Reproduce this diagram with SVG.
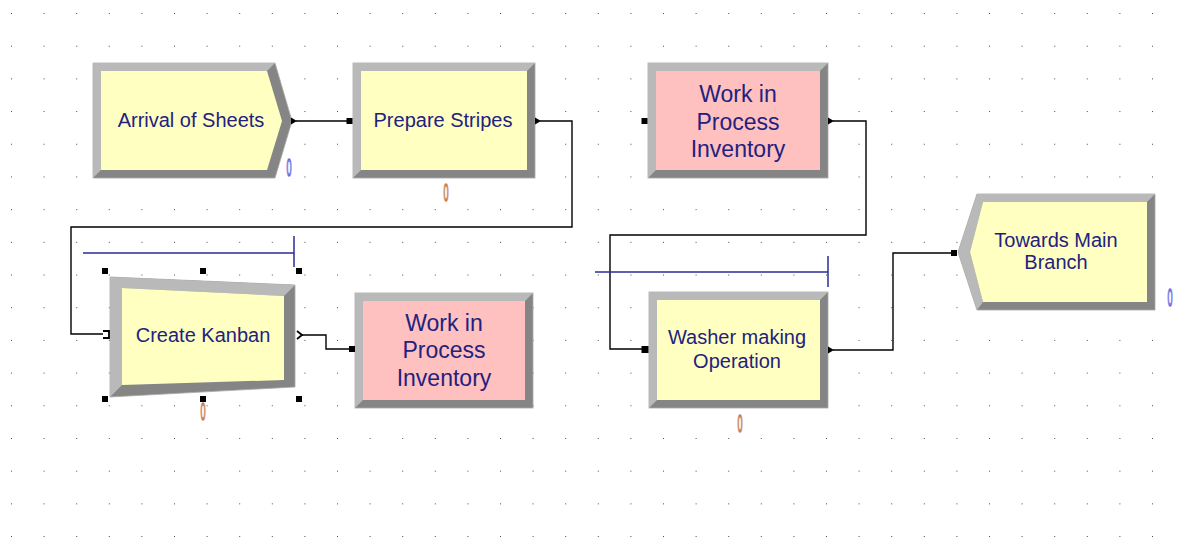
<svg xmlns="http://www.w3.org/2000/svg" width="1183" height="538" viewBox="0 0 1183 538">
  <style>
    .lbl { font-family: "Liberation Sans", Arial, sans-serif; font-size: 20px; fill: #22227e; text-anchor: middle; }
    .big { font-size: 23px; }
    .light { fill: #b9b9b9; }
    .dark { fill: #858585; stroke: #a8a8a8; stroke-width: 0.8; }
    .yel { fill: #ffffc2; }
    .pink { fill: #ffc0c0; }
    .port { fill: #000; }
    .wire { fill: none; stroke: #000; stroke-width: 1.4; }
    .qline { fill: none; stroke: #2d2d9a; stroke-width: 1.5; }
    .cnt { font-family: "Liberation Sans", Arial, sans-serif; font-size: 24px; fill: #fff; stroke-width: 1.6; text-anchor: middle; }
    .cb { stroke: #6a6ae0; }
    .co { stroke: #c87850; }
  </style>
  <defs>
    <pattern id="grid" x="11" y="13" width="32.6" height="32.69" patternUnits="userSpaceOnUse">
      <rect x="-0.9" y="-0.9" width="1.9" height="1.9" fill="#4a4a4a"/>
    </pattern>
  </defs>

  <rect width="1183" height="538" fill="#fff"/>
  <rect width="1183" height="538" fill="url(#grid)"/>

  <!-- connectors -->
  <g id="connectors">
    <path class="wire" d="M296,121 H348"/>
    <path class="wire" d="M540,121 H572 V227 H71 V334 H103"/>
    <path class="wire" d="M302,335 H326 V349 H350"/>
    <path class="wire" d="M833,121 H866 V235 H610 V349 H643"/>
    <path class="wire" d="M833,350 H893 V253 H952"/>
  </g>

  <!-- Arrival of Sheets (create) -->
  <g id="arrival">
    <polygon class="dark" points="93,63 275,63 292,121 275,178 93,178"/>
    <polygon class="light" points="93,63 275,63 267,71 101,71 101,170 93,178"/>
    <polygon class="yel" points="101,71 267,71 282,121 267,170 101,170"/>
    <text class="lbl" x="191" y="127">Arrival of Sheets</text>
    <polygon class="port" points="291,117.5 297,121 291,124.5"/>
    <text class="cnt cb" transform="translate(289,176) scale(0.38,1)">0</text>
  </g>

  <!-- Prepare Stripes (process) -->
  <g id="prepare">
    <rect class="dark" x="353" y="63" width="182" height="115"/>
    <polygon class="light" points="353,63 535,63 527,71 361,71 361,170 353,178"/>
    <rect class="yel" x="361" y="71" width="166" height="99"/>
    <text class="lbl" x="443" y="127">Prepare Stripes</text>
    <rect class="port" x="346.5" y="118" width="6" height="6"/>
    <polygon class="port" points="535,117.5 541,121 535,124.5"/>
    <text class="cnt co" transform="translate(446,201) scale(0.38,1)">0</text>
  </g>

  <!-- Work in Process Inventory (upper) -->
  <g id="wip-upper">
    <rect class="dark" x="648" y="63" width="180" height="115"/>
    <polygon class="light" points="648,63 828,63 820,71 656,71 656,170 648,178"/>
    <rect class="pink" x="656" y="71" width="164" height="99"/>
    <text class="lbl big" x="738" y="102">Work in</text>
    <text class="lbl big" x="738" y="130">Process</text>
    <text class="lbl big" x="738" y="157">Inventory</text>
    <rect class="port" x="641.5" y="118" width="6" height="6"/>
    <polygon class="port" points="828,117.5 834,121 828,124.5"/>
  </g>

  <!-- Create Kanban -->
  <g id="create-kanban">
    <path class="qline" d="M83,253 H294 M294,236 V267"/>
    <polygon class="dark" points="110,277 295,285 295,387 110,397"/>
    <polygon class="light" points="110,277 295,285 284,296 122,288 122,385 110,397"/>
    <polygon class="yel" points="122,288 284,296 284,380 122,385"/>
    <text class="lbl" x="203" y="342">Create Kanban</text>
    <path d="M103,331 H109 V338 H103" fill="none" stroke="#000" stroke-width="1.8"/>
    <path d="M297,331 L302,335 L297,339" fill="none" stroke="#000" stroke-width="1.8"/>
    <rect class="port" x="102" y="268" width="6" height="6"/>
    <rect class="port" x="200" y="268" width="6" height="6"/>
    <rect class="port" x="296" y="268" width="6" height="6"/>
    <rect class="port" x="102" y="396" width="6" height="6"/>
    <rect class="port" x="200" y="396" width="6" height="6"/>
    <rect class="port" x="296" y="396" width="6" height="6"/>
    <text class="cnt co" transform="translate(203,420) scale(0.38,1)">0</text>
  </g>

  <!-- Work in Process Inventory (lower) -->
  <g id="wip-lower">
    <rect class="dark" x="355" y="293" width="178" height="115"/>
    <polygon class="light" points="355,293 533,293 525,301 363,301 363,400 355,408"/>
    <rect class="pink" x="363" y="301" width="162" height="99"/>
    <text class="lbl big" x="444" y="331">Work in</text>
    <text class="lbl big" x="444" y="358">Process</text>
    <text class="lbl big" x="444" y="386">Inventory</text>
    <rect class="port" x="349" y="346" width="6" height="6"/>
  </g>

  <!-- Washer making Operation (process) -->
  <g id="washer">
    <path class="qline" d="M595,272 H828 M828,256 V287"/>
    <rect class="dark" x="649" y="292" width="179" height="116"/>
    <polygon class="light" points="649,292 828,292 820,300 657,300 657,400 649,408"/>
    <rect class="yel" x="657" y="300" width="163" height="100"/>
    <text class="lbl" x="737" y="344">Washer making</text>
    <text class="lbl" x="737" y="368">Operation</text>
    <rect class="port" x="641.5" y="346" width="7" height="7"/>
    <polygon class="port" points="828,346.5 834,350 828,353.5"/>
    <text class="cnt co" transform="translate(740,432) scale(0.38,1)">0</text>
  </g>

  <!-- Towards Main Branch (dispose) -->
  <g id="towards-main">
    <polygon class="dark" points="977,194 1155,194 1155,310 977,310 958,252"/>
    <polygon class="light" points="977,194 1155,194 1147,202 983,202 970,252 983,302 977,310 958,252"/>
    <polygon class="yel" points="983,202 1147,202 1147,302 983,302 970,252"/>
    <text class="lbl" x="1056" y="247">Towards Main</text>
    <text class="lbl" x="1056" y="269">Branch</text>
    <rect class="port" x="951" y="250" width="6" height="6"/>
    <text class="cnt cb" transform="translate(1170,306) scale(0.38,1)">0</text>
  </g>
</svg>
